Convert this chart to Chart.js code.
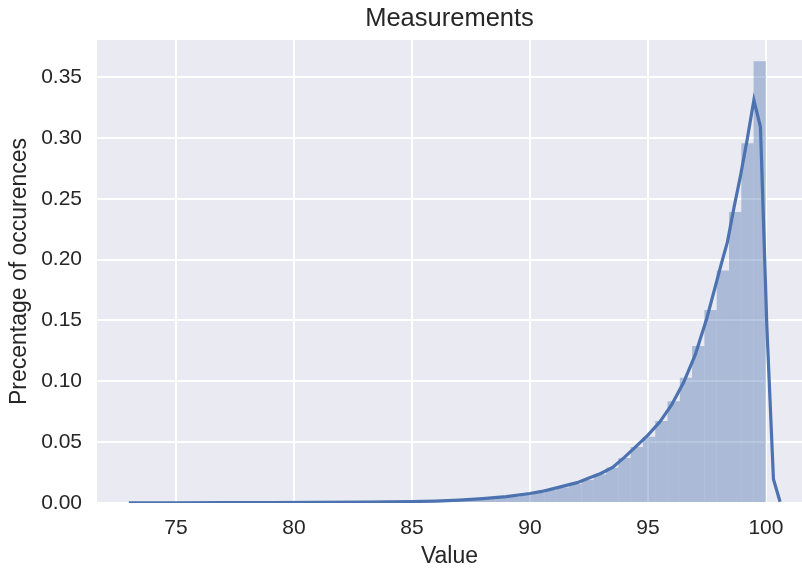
<!DOCTYPE html>
<html>
<head>
<meta charset="utf-8">
<title>Measurements</title>
<script src="https://cdn.jsdelivr.net/npm/chart.js@4/dist/chart.umd.min.js"></script>
<style>
  html, body { margin: 0; padding: 0; background: #fff; }
  #wrap { width: 802px; height: 569px; }
</style>
</head>
<body>
<div id="wrap"><canvas id="distChart" width="802" height="569"></canvas></div>
<script>
// histogram: bin centres and normalised heights
const binCenters = [
    74.201, 74.722, 75.243, 75.764, 76.285, 76.807, 77.328, 77.849, 78.370, 78.891,
    79.413, 79.934, 80.455, 80.976, 81.497, 82.019, 82.540, 83.061, 83.582, 84.103,
    84.625, 85.146, 85.667, 86.188, 86.709, 87.231, 87.752, 88.273, 88.794, 89.315,
    89.837, 90.358, 90.879, 91.400, 91.921, 92.443, 92.964, 93.485, 94.006, 94.527,
    95.049, 95.570, 96.091, 96.612, 97.133, 97.655, 98.176, 98.697, 99.218, 99.739
];
const binHeights = [
    0.0002, 0.0002, 0.0002, 0.0003, 0.0003, 0.0003, 0.0003, 0.0004, 0.0004, 0.0004,
    0.0005, 0.0005, 0.0005, 0.0006, 0.0006, 0.0007, 0.0007, 0.0008, 0.0009, 0.0010,
    0.0011, 0.0012, 0.0014, 0.0017, 0.0021, 0.0025, 0.0030, 0.0036, 0.0043, 0.0052,
    0.0065, 0.0085, 0.0105, 0.0128, 0.0155, 0.0190, 0.0235, 0.0290, 0.0370, 0.0460,
    0.0545, 0.0674, 0.0835, 0.1030, 0.1290, 0.1586, 0.1910, 0.2390, 0.2955, 0.3630
];

// density estimate curve
const kdeX = [
    73.0, 75.0, 77.0, 79.0, 81.0, 83.0, 85.0, 86.0, 87.0, 88.0,
    89.0, 90.0, 90.5, 91.0, 91.5, 92.0, 92.5, 93.0, 93.5, 94.0,
    94.5, 95.0, 95.5, 96.0, 96.5, 97.0, 97.5, 98.09, 98.37, 98.65,
    98.93, 99.21, 99.49, 99.77, 100.04, 100.32, 100.6
];
const kdeY = [
    0.0001, 0.0002, 0.0003, 0.0004, 0.0006, 0.0008, 0.0012, 0.0016, 0.0024, 0.0036,
    0.0052, 0.0078, 0.0095, 0.0118, 0.0143, 0.0167, 0.0205, 0.0243, 0.0292, 0.0375,
    0.0465, 0.0558, 0.0665, 0.0805, 0.0985, 0.1215, 0.1520, 0.1950, 0.2145, 0.2430,
    0.2695, 0.2990, 0.3310, 0.3090, 0.1450, 0.0195, 0.0010
];

const xTicks = [75, 80, 85, 90, 95, 100];
const yTicks = [0.00, 0.05, 0.10, 0.15, 0.20, 0.25, 0.30, 0.35];

const FONT = "'Liberation Sans', Arial, 'DejaVu Sans', sans-serif";
const TEXT = '#262626';
const BLUE = '#4C72B0';

// grey panel behind the plot area
const panelBg = {
    id: 'panelBg',
    beforeDraw(chart) {
        const { ctx, chartArea: a } = chart;
        ctx.save();
        ctx.fillStyle = '#EAEAF2';
        ctx.fillRect(a.left, a.top, a.right - a.left, a.bottom - a.top);
        ctx.restore();
    }
};

const ctx = document.getElementById('distChart').getContext('2d');
new Chart(ctx, {
    type: 'bar',
    data: {
        datasets: [
            {
                type: 'line',
                data: kdeX.map((x, i) => ({ x, y: kdeY[i] })),
                borderColor: BLUE,
                borderWidth: 3.2,
                pointRadius: 0,
                tension: 0,
                fill: false,
                order: 0
            },
            {
                type: 'bar',
                data: binCenters.map((x, i) => ({ x, y: binHeights[i] })),
                backgroundColor: 'rgba(76, 114, 176, 0.4)',
                borderWidth: 0,
                inflateAmount: 0,
                barPercentage: 1,
                categoryPercentage: 1,
                order: 1
            }
        ]
    },
    options: {
        responsive: false,
        animation: false,
        layout: { padding: 0 },
        plugins: {
            legend: { display: false },
            tooltip: { enabled: false },
            title: {
                display: true,
                fullSize: false,
                text: 'Measurements',
                color: TEXT,
                font: { family: FONT, size: 25.5, weight: 'normal' },
                padding: { top: 4, bottom: 5.4 }
            }
        },
        scales: {
            x: {
                type: 'linear',
                offset: false,
                min: 71.65,
                max: 101.53,
                afterBuildTicks: s => { s.ticks = xTicks.map(v => ({ value: v })); },
                afterFit: s => { s.height = 66; },
                ticks: {
                    color: TEXT,
                    font: { family: FONT, size: 21 },
                    padding: 13,
                    maxRotation: 0,
                    callback: v => String(v)
                },
                grid: { color: '#ffffff', lineWidth: 2, drawTicks: false, offset: false },
                border: { display: false },
                title: {
                    display: true,
                    text: 'Value',
                    color: TEXT,
                    font: { family: FONT, size: 23 },
                    padding: { top: 0, bottom: -1 }
                }
            },
            y: {
                min: 0,
                max: 0.3804,
                afterBuildTicks: s => { s.ticks = yTicks.map(v => ({ value: v })); },
                afterFit: s => { s.width = 97; },
                ticks: {
                    color: TEXT,
                    font: { family: FONT, size: 21 },
                    padding: 15,
                    callback: v => v.toFixed(2)
                },
                grid: { color: '#ffffff', lineWidth: 2, drawTicks: false },
                border: { display: false },
                title: {
                    display: true,
                    text: 'Precentage of occurences',
                    color: TEXT,
                    font: { family: FONT, size: 23 },
                    padding: { top: 6, bottom: 0 }
                }
            }
        }
    },
    plugins: [panelBg]
});
</script>
</body>
</html>
